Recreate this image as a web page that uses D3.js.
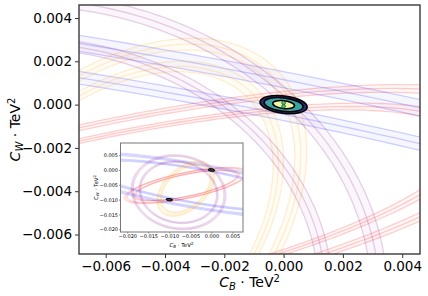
<!DOCTYPE html>
<html>
<head>
<meta charset="utf-8">
<script src="https://cdn.jsdelivr.net/npm/d3@7"></script>
<style>
  body { margin: 0; background: #fff; }
  text { font-family: "DejaVu Sans", sans-serif; }
</style>
</head>
<body>
<div id="chart"></div>
<script>
// ellipse families (sheared form): x = x0 + W cos t, y = y0 + m W cos t + H sin t
var famColor = ["#ff0000", "#0000ff", "#ffa500", "#800080"];
var famX0 = [-0.0060, -0.0040, -0.0061, -0.0078];
var famY0 = [-0.0052, -0.00523, -0.0063, -0.0075];
var famW  = [0.0134, 0.0300, 0.0063, 0.0101];
var famH  = [0.0041, 0.0066, 0.0077, 0.0113];
var famM  = [0.28, -0.24, 0.60, -0.10];
var famScales = [[0.92, 1.07], [0.88, 1.12], [0.94, 1.06], [0.91, 1.09]];
var famSpread = [0.03, 0.05, 0.03, 0.025];

// combined fit contours (drawn at each solution)
var blobX = [0, -0.01];
var blobY = [0, -0.01];
var blobRx = [0.00080, 0.00066, 0.00037];
var blobRy = [0.00040, 0.00031, 0.00018];
var blobFill = ["#2b2c6e", "#3aa3a4", "#f2f6a8"];

var mainTicks = [-0.006, -0.004, -0.002, 0.000, 0.002, 0.004];
var insetTicks = [-0.020, -0.015, -0.010, -0.005, 0.000, 0.005];

var W = 428, H = 296;
var svg = d3.select("#chart").append("svg")
    .attr("width", W).attr("height", H);

var x = d3.scaleLinear().domain([-0.0069, 0.0046]).range([79, 420]);
var y = d3.scaleLinear().domain([-0.0069, 0.0046]).range([254, 5]);

var xi = d3.scaleLinear().domain([-0.0216, 0.0075]).range([120.5, 243]);
var yi = d3.scaleLinear().domain([-0.0209, 0.0091]).range([232, 143]);

var defs = svg.append("defs");
defs.append("clipPath").attr("id", "clipMain").append("rect")
    .attr("x", 79).attr("y", 5).attr("width", 341).attr("height", 249);
defs.append("clipPath").attr("id", "clipInset").append("rect")
    .attr("x", 120.5).attr("y", 143).attr("width", 122.5).attr("height", 89);

function ellipsePts(f, s) {
  var pts = [];
  for (var i = 0; i < 360; i++) {
    var t = i / 360 * 2 * Math.PI;
    var c = Math.cos(t), sn = Math.sin(t);
    pts.push([famX0[f] + s * famW[f] * c,
              famY0[f] + famM[f] * s * famW[f] * c + s * famH[f] * sn]);
  }
  return pts;
}

function drawBands(g, sx, sy, lw) {
  var line = d3.line().x(function(d) { return sx(d[0]); })
      .y(function(d) { return sy(d[1]); }).curve(d3.curveLinearClosed);
  famColor.forEach(function(col, f) {
    famScales[f].forEach(function(s) {
      var lo = ellipsePts(f, s * (1 - famSpread[f]));
      var hi = ellipsePts(f, s * (1 + famSpread[f]));
      g.append("path")
        .attr("d", line(hi) + line(lo.slice().reverse()))
        .attr("fill", col).attr("fill-opacity", 0.035)
        .attr("fill-rule", "evenodd").attr("stroke", "none");
      [-1, 0, 1].forEach(function(k) {
        g.append("path")
          .attr("d", line(ellipsePts(f, s * (1 + k * famSpread[f]))))
          .attr("fill", "none").attr("stroke", col)
          .attr("stroke-opacity", 0.18).attr("stroke-width", lw);
      });
    });
  });
}

function drawBlobs(g, sx, sy, withCentre) {
  blobX.forEach(function(bx, b) {
    var cx = sx(bx), cy = sy(blobY[b]);
    blobRx.forEach(function(rx, i) {
      g.append("ellipse")
        .attr("cx", cx).attr("cy", cy)
        .attr("rx", sx(bx + rx) - cx).attr("ry", cy - sy(blobY[b] + blobRy[i]))
        .attr("transform", "rotate(7," + cx + "," + cy + ")")
        .attr("fill", blobFill[i]).attr("stroke", "#000")
        .attr("stroke-width", withCentre ? 1.6 : 0.8);
    });
    if (withCentre) {
      [-1, 1].forEach(function(k) {
        g.append("ellipse")
          .attr("cx", cx).attr("cy", cy + k * 1.7)
          .attr("rx", 1.9).attr("ry", 1.7)
          .attr("fill", "#5cc46c").attr("stroke", "#1d6b34").attr("stroke-width", 0.9);
      });
    }
  });
}

// main axes
var gMain = svg.append("g").attr("clip-path", "url(#clipMain)");
drawBands(gMain, x, y, 1.3);
drawBlobs(gMain, x, y, true);

var fmt = d3.format(".3f");
var xAxis = svg.append("g").attr("transform", "translate(0,254)")
    .call(d3.axisBottom(x).tickValues(mainTicks).tickFormat(fmt).tickSize(4).tickPadding(3));
var yAxis = svg.append("g").attr("transform", "translate(79,0)")
    .call(d3.axisLeft(y).tickValues(mainTicks).tickFormat(fmt).tickSize(4).tickPadding(3));
[xAxis, yAxis].forEach(function(a) {
  a.selectAll("text").style("font-size", "13.5px").attr("fill", "#000");
  a.selectAll("line").attr("stroke", "#333");
  a.select(".domain").remove();
});

svg.append("rect").attr("x", 79).attr("y", 5).attr("width", 341).attr("height", 249)
    .attr("fill", "none").attr("stroke", "#3a3a3a").attr("stroke-width", 1.4);

svg.append("text").attr("x", 249.5).attr("y", 287).attr("text-anchor", "middle")
    .style("font-size", "14px")
    .html('<tspan font-style="italic">C</tspan><tspan font-style="italic" font-size="10px" dy="3">B</tspan><tspan dy="-3"> · TeV</tspan><tspan font-size="10px" dy="-5">2</tspan>');
svg.append("text").attr("transform", "translate(20,129.5) rotate(-90)").attr("text-anchor", "middle")
    .style("font-size", "14px")
    .html('<tspan font-style="italic">C</tspan><tspan font-style="italic" font-size="10px" dy="3">W</tspan><tspan dy="-3"> · TeV</tspan><tspan font-size="10px" dy="-5">2</tspan>');

// inset
svg.append("rect").attr("x", 90).attr("y", 142.5).attr("width", 153).attr("height", 106)
    .attr("fill", "#fff");
var gIn = svg.append("g").attr("clip-path", "url(#clipInset)");
drawBands(gIn, xi, yi, 0.9);
drawBlobs(gIn, xi, yi, false);

var xiAxis = svg.append("g").attr("transform", "translate(0,232)")
    .call(d3.axisBottom(xi).tickValues(insetTicks).tickFormat(fmt).tickSize(1.5).tickPadding(1));
var yiAxis = svg.append("g").attr("transform", "translate(120.5,0)")
    .call(d3.axisLeft(yi).tickValues(insetTicks).tickFormat(fmt).tickSize(1.5).tickPadding(1));
[xiAxis, yiAxis].forEach(function(a) {
  a.selectAll("text").style("font-size", "5px").attr("fill", "#000");
  a.selectAll("line").attr("stroke", "#444").attr("stroke-width", 0.6);
  a.select(".domain").remove();
});
svg.append("rect").attr("x", 120.5).attr("y", 143).attr("width", 122.5).attr("height", 89)
    .attr("fill", "none").attr("stroke", "#777").attr("stroke-width", 1);

svg.append("text").attr("x", 181.5).attr("y", 246.5).attr("text-anchor", "middle")
    .style("font-size", "5.5px")
    .html('<tspan font-style="italic">C</tspan><tspan font-style="italic" font-size="4px" dy="1.2">B</tspan><tspan dy="-1.2"> · TeV</tspan><tspan font-size="4px" dy="-1.8">2</tspan>');
svg.append("text").attr("transform", "translate(97.5,187.5) rotate(-90)").attr("text-anchor", "middle")
    .style("font-size", "5.5px")
    .html('<tspan font-style="italic">C</tspan><tspan font-style="italic" font-size="4px" dy="1.2">W</tspan><tspan dy="-1.2"> · TeV</tspan><tspan font-size="4px" dy="-1.8">2</tspan>');
</script>
</body>
</html>
